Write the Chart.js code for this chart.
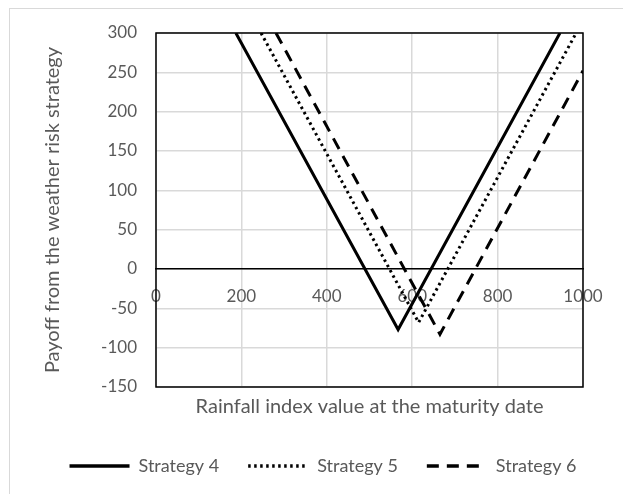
<!DOCTYPE html>
<html>
<head>
<meta charset="utf-8">
<script src="https://cdn.jsdelivr.net/npm/chart.js@4.4.1/dist/chart.umd.min.js"></script>
<style>
  body { margin: 0; background: #fff; }
  #wrap { position: relative; width: 623px; height: 494px; overflow: hidden; }
  #frame { position: absolute; left: 9px; top: 8px; width: 700px; height: 600px; border: 1px solid #d9d9d9; }
  canvas { position: absolute; left: 0; top: 0; }
</style>
</head>
<body>
<div id="wrap">
  <div id="frame"></div>
  <canvas id="payoffChart" width="623" height="494"></canvas>
</div>
<script>
// kink points of each payoff line (rainfall index, payoff)
const strategy4X = [187, 567, 946];
const strategy4Y = [300, -77, 300];
const strategy5X = [246, 615, 984];
const strategy5Y = [300, -68, 300];
const strategy6X = [281, 665, 1000];
const strategy6Y = [300, -83, 252];
const seriesNames = ['Strategy 4', 'Strategy 5', 'Strategy 6'];
const xTicks = [0, 200, 400, 600, 800, 1000];
const yTicks = [-150, -100, -50, 0, 50, 100, 150, 200, 250, 300];

const toPoints = (xs, ys) => xs.map((x, i) => ({ x: x, y: ys[i] }));

const textColor = '#595959';
const gridColor = '#d9d9d9';
const fontFamily = 'Lato, "Open Sans", sans-serif';

// black frame round the plot area
const plotFrame = {
    id: 'plotFrame',
    afterDatasetsDraw(chart) {
        const { ctx, chartArea } = chart;
        ctx.save();
        ctx.strokeStyle = '#000';
        ctx.lineWidth = 1.5;
        ctx.strokeRect(chartArea.left, chartArea.top, chartArea.right - chartArea.left, chartArea.bottom - chartArea.top);
        ctx.restore();
    }
};

const ctx = document.getElementById('payoffChart');

new Chart(ctx, {
    type: 'line',
    data: {
        datasets: [
            {
                label: seriesNames[0],
                data: toPoints(strategy4X, strategy4Y),
                borderColor: '#000',
                backgroundColor: '#000',
                borderWidth: 3,
                pointRadius: 0,
                pointStyle: 'line',
            },
            {
                label: seriesNames[1],
                data: toPoints(strategy5X, strategy5Y),
                borderColor: '#000',
                backgroundColor: '#000',
                borderWidth: 3,
                borderDash: [2.5, 3.5],
                pointRadius: 0,
                pointStyle: 'line',
            },
            {
                label: seriesNames[2],
                data: toPoints(strategy6X, strategy6Y),
                borderColor: '#000',
                backgroundColor: '#000',
                borderWidth: 3,
                borderDash: [12, 8],
                pointRadius: 0,
                pointStyle: 'line',
            },
        ]
    },
    options: {
        responsive: false,
        animation: false,
        layout: {
            padding: { left: 23, right: 0, top: 33, bottom: 9 }
        },
        scales: {
            x: {
                type: 'linear',
                min: 0,
                max: 1000,
                afterBuildTicks: (scale) => { scale.ticks = xTicks.map(v => ({ value: v })); },
                afterFit: (scale) => { scale.height = 41; },
                ticks: { display: false },
                grid: { color: gridColor, lineWidth: 1.5, drawTicks: false },
                border: { display: false },
                title: {
                    display: true,
                    text: 'Rainfall index value at the maturity date',
                    color: textColor,
                    font: { family: fontFamily, size: 20 },
                    padding: { top: 0, bottom: 9 }
                }
            },
            xZero: {
                type: 'linear',
                axis: 'x',
                position: { y: 0 },
                min: 0,
                max: 1000,
                afterBuildTicks: (scale) => { scale.ticks = xTicks.map(v => ({ value: v })); },
                ticks: {
                    color: textColor,
                    font: { family: fontFamily, size: 17 },
                    padding: 17,
                    maxRotation: 0,
                    callback: (value) => String(value)
                },
                grid: { display: false, drawTicks: false },
                border: { display: true, color: '#000', width: 1.5 }
            },
            y: {
                type: 'linear',
                min: -150,
                max: 300,
                afterBuildTicks: (scale) => { scale.ticks = yTicks.map(v => ({ value: v })); },
                afterFit: (scale) => { scale.width = 133; },
                ticks: { color: textColor, font: { family: fontFamily, size: 17 }, padding: 19 },
                grid: { color: gridColor, lineWidth: 1.5, drawTicks: false },
                border: { display: false },
                title: {
                    display: true,
                    text: 'Payoff from the weather risk strategy',
                    color: textColor,
                    font: { family: fontFamily, size: 20 },
                    padding: { top: 18, bottom: 0 }
                }
            },
            // empty right axis, only keeps the gap right of the plot
            yRight: {
                type: 'linear',
                position: 'right',
                min: -150,
                max: 300,
                afterFit: (scale) => { scale.width = 40; },
                ticks: { display: false },
                grid: { display: false, drawTicks: false },
                border: { display: false }
            }
        },
        plugins: {
            legend: {
                position: 'bottom',
                labels: {
                    usePointStyle: true,
                    pointStyleWidth: 60,
                    boxHeight: 8,
                    color: textColor,
                    font: { family: fontFamily, size: 18 },
                    padding: 29,
                    // point style labels take the point's look, so put the line dash back
                    generateLabels: (chart) => {
                        const items = Chart.defaults.plugins.legend.labels.generateLabels(chart);
                        items.forEach(item => {
                            const ds = chart.data.datasets[item.datasetIndex];
                            item.lineDash = ds.borderDash || [];
                            item.lineWidth = 3.5;
                            item.strokeStyle = '#000';
                        });
                        return items;
                    }
                }
            },
            tooltip: { enabled: false }
        }
    },
    plugins: [plotFrame]
});
</script>
</body>
</html>
